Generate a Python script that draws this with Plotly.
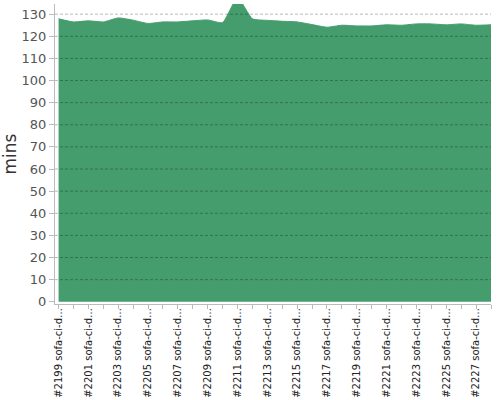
import plotly.graph_objects as go

builds = list(range(2199, 2229))
labels = [f"#{b} sofa-ci-d…" for b in builds]
minutes = [127.9, 126.5, 127.0, 126.5, 128.3, 127.3, 125.8, 126.5, 126.5, 127.0,
           127.4, 126.2, 137.5, 127.9, 127.2, 126.8, 126.5, 125.3, 124.1, 125.0,
           124.7, 124.7, 125.2, 125.0, 125.6, 125.6, 125.2, 125.6, 125.0, 125.2]
y_ticks = list(range(0, 131, 10))

x = list(range(len(builds)))
tick_text = [lab if i % 2 == 0 else "" for i, lab in enumerate(labels)]

fig = go.Figure()

fig.add_trace(
    go.Scatter(
        x=x,
        y=minutes,
        mode="lines",
        line=dict(color="#459d6d", width=1, shape="spline", smoothing=0.5),
        fill="tozeroy",
        fillcolor="#459d6d",
        hoverinfo="y",
        showlegend=False,
    )
)

# dashed grid lines drawn above the filled area
for v in y_ticks[1:]:
    fig.add_shape(
        type="line", xref="paper", yref="y", x0=0, x1=1, y0=v, y1=v,
        line=dict(color="rgba(0,0,0,0.28)", width=1, dash="3px,2px"),
        layer="above",
    )

fig.update_layout(
    width=500,
    height=400,
    margin=dict(l=55, r=9, t=4, b=96),
    plot_bgcolor="white",
    paper_bgcolor="white",
    font=dict(family="DejaVu Sans", color="#555555"),
    xaxis=dict(
        range=[-0.24, len(builds) - 1],
        tickmode="array",
        tickvals=x,
        ticktext=tick_text,
        tickangle=-90,
        tickfont=dict(size=10, color="#222222"),
        ticklabelstandoff=-5,
        ticks="outside",
        ticklen=4,
        tickcolor="#bbbbbb",
        showline=True,
        linecolor="#bbbbbb",
        showgrid=False,
        zeroline=False,
        automargin=False,
    ),
    yaxis=dict(
        range=[-1, 134.6],
        tickvals=y_ticks,
        tickfont=dict(size=13, color="#555555"),
        ticks="outside",
        ticklen=5,
        tickcolor="#bbbbbb",
        showline=True,
        linecolor="#bbbbbb",
        showgrid=False,
        zeroline=False,
        automargin=False,
        title=dict(text="mins", font=dict(size=17, color="#333333"), standoff=12),
    ),
)

fig.write_html(
    "out.html",
    config={"displayModeBar": False},
    post_script="document.body.style.margin = '0';",
)
